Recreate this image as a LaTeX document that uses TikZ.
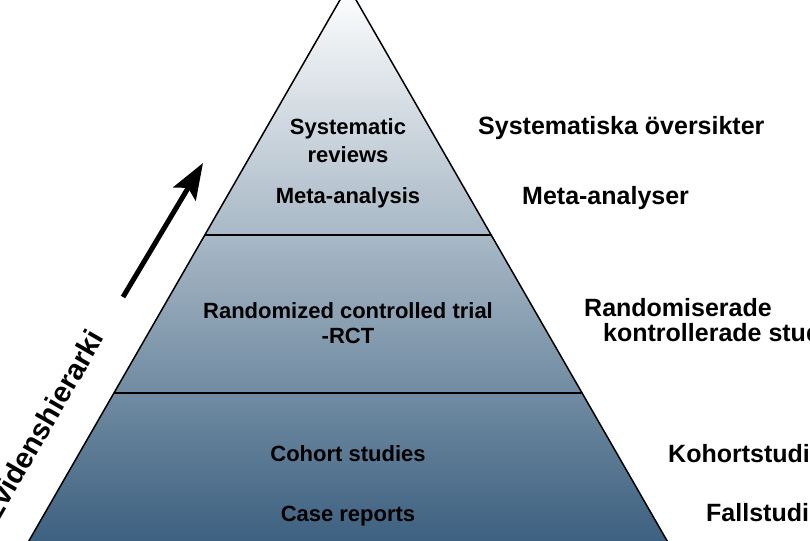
\documentclass[tikz,border=0pt]{standalone}
\usepackage{fontspec}
\setmainfont{Liberation Sans}
\usetikzlibrary{arrows.meta,calc}
\definecolor{pyrtop}{RGB}{255,255,255}
\definecolor{pyrmid}{RGB}{181,195,208}
\definecolor{pyrbot}{RGB}{50,88,121}
\begin{document}
\begin{tikzpicture}[x=1pt,y=-1pt,
  inner/.style={font=\fontsize{22}{26}\selectfont\bfseries, anchor=base, inner sep=0pt, text=black},
  outer/.style={font=\fontsize{25}{30}\selectfont\bfseries, anchor=base west, inner sep=0pt, text=black},
  divider/.style={line width=2pt, black},
  edge/.style={line width=1.5pt, black}]
\useasboundingbox (0,0) rectangle (810,540);
\clip (0,0) rectangle (810,540);
\fill[white] (0,0) rectangle (810,540);
% pyramid
\coordinate (apex) at (348,-14);
\coordinate (bl) at (11,572);
\coordinate (br) at (685,572);
\shade[top color=pyrtop, middle color=pyrmid, bottom color=pyrbot] (apex) -- (bl) -- (br) -- cycle;
\coordinate (d1l) at ($(apex)!0.4249!(bl)$);
\coordinate (d1r) at ($(apex)!0.4249!(br)$);
\coordinate (d2l) at ($(apex)!0.6945!(bl)$);
\coordinate (d2r) at ($(apex)!0.6945!(br)$);
\draw[divider] (d1l) -- (d1r);
\draw[divider] (d2l) -- (d2r);
\draw[edge, line join=miter] (bl) -- (apex) -- (br);
% inner labels
\node[inner] (sr1) at (348,135) {Systematic};
\node[inner] (sr2) at (348,162) {reviews};
\node[inner] (ma) at (348,203) {Meta-analysis};
\node[inner] (rct1) at (348,318) {Randomized controlled trial};
\node[inner] (rct2) at (348,343) {-RCT};
\node[inner] (coh) at (348,461) {Cohort studies};
\node[inner] (cas) at (348,521) {Case reports};
% outer labels
\node[outer] (so) at (478,135) {Systematiska översikter};
\node[outer] (mo) at (522,204) {Meta-analyser};
\node[outer] (ro1) at (584,316) {Randomiserade};
\node[outer] (ro2) at (603,341) {kontrollerade studier};
\node[outer] (ko) at (668,462) {Kohortstudier};
\node[outer] (fo) at (706,521) {Fallstudier};
% arrow and axis label
\coordinate (ar0) at (123,297);
\coordinate (ar1) at (203,163);
\draw[line width=5pt, -{Stealth[length=36pt, width=26pt, inset=7pt]}] (ar0) -- (ar1);
\node[font=\fontsize{29}{34}\selectfont\bfseries, rotate=60, anchor=base, inner sep=0pt] (ev) at (51,431) {Evidenshierarki};
\end{tikzpicture}
\end{document}
